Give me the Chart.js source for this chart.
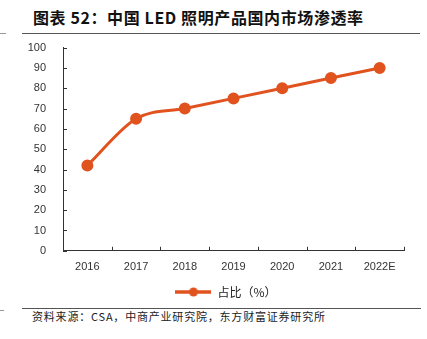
<!DOCTYPE html>
<html>
<head>
<meta charset="utf-8">
<script src="https://cdn.jsdelivr.net/npm/chart.js@4"></script>
<style>
  body { margin: 0; width: 427px; height: 339px; background: #fff; position: relative; overflow: hidden; font-family: "Noto Sans CJK SC", sans-serif; }
  .title { position: absolute; left: 33px; top: 5px; font-size: 16px; font-weight: bold; color: #111; letter-spacing: 0.6px; white-space: nowrap; }
  .rule { position: absolute; height: 1px; background: #555; }
  .source { position: absolute; left: 32px; top: 308px; font-size: 11px; color: #222; letter-spacing: 0.8px; white-space: nowrap; }
  #wrap { position: absolute; left: 0; top: 32px; width: 427px; height: 274px; }
</style>
</head>
<body>
<div class="title">图表 52：中国 LED 照明产品国内市场渗透率</div>
<div class="rule" style="left:22px; top:33px; width:398px;"></div>
<div class="rule" style="left:0; top:33px; width:6px; background:#999;"></div>
<div class="rule" style="left:22px; top:308px; width:399px;"></div>
<div class="rule" style="left:0; top:310px; width:4px; background:#999;"></div>
<div class="source">资料来源：CSA，中商产业研究院，东方财富证券研究所</div>
<div id="wrap"><canvas id="chart"></canvas></div>
<script>
const years = ['2016', '2017', '2018', '2019', '2020', '2021', '2022E'];
const share = [42, 65, 70, 75, 80, 85, 90];
const seriesName = '占比（%）';
const lineColor = '#E0531F';

// legend marker: line with a dot in the middle
const marker = document.createElement('canvas');
marker.width = 36;
marker.height = 10;
const m = marker.getContext('2d');
m.strokeStyle = lineColor;
m.lineWidth = 3.5;
m.beginPath();
m.moveTo(0, 5);
m.lineTo(36, 5);
m.stroke();
m.fillStyle = lineColor;
m.beginPath();
m.arc(18, 5, 4.5, 0, Math.PI * 2);
m.fill();

// ticks drawn inward from the axes
const innerTicks = {
    id: 'innerTicks',
    afterLayout(c) {
        // legend sits a bit right of the chart centre
        c.legend.left += 24;
        c.legend.right += 24;
        c.legend.top += 2;
        c.legend.bottom += 2;
    },
    afterDatasetsDraw(c) {
        const ctx = c.ctx;
        const x = c.scales.x, y = c.scales.y;
        ctx.save();
        ctx.strokeStyle = '#333';
        ctx.lineWidth = 1;
        ctx.beginPath();
        y.ticks.forEach((t, i) => {
            const py = Math.round(y.getPixelForTick(i)) + 0.5;
            ctx.moveTo(x.left, py);
            ctx.lineTo(x.left + 4, py);
        });
        for (let i = 1; i <= years.length; i++) {
            const px = Math.round(x.left + (x.right - x.left) * i / years.length) + 0.5;
            ctx.moveTo(px, y.bottom);
            ctx.lineTo(px, y.bottom - 4);
        }
        ctx.stroke();
        ctx.restore();
    }
};

new Chart(document.querySelector('#chart'), {
    type: 'line',
    data: {
        labels: years,
        datasets: [{
            label: seriesName,
            data: share,
            borderColor: lineColor,
            backgroundColor: lineColor,
            borderWidth: 3,
            pointRadius: 4.5,
            pointStyle: 'circle',
            cubicInterpolationMode: 'monotone'
        }]
    },
    options: {
        responsive: true,
        maintainAspectRatio: false,
        animation: false,
        layout: { padding: { top: 0, right: 23, left: 0, bottom: 0 } },
        plugins: {
            tooltip: { enabled: false },
            legend: {
                position: 'bottom',
                labels: {
                    usePointStyle: true,
                    pointStyle: marker,
                    pointStyleWidth: 36,
                    color: '#222',
                    padding: 8,
                    font: { family: '"Noto Sans CJK SC", sans-serif', size: 12 }
                }
            }
        },
        scales: {
            x: {
                offset: true,
                border: { color: '#333', width: 1 },
                grid: { display: false },
                ticks: { color: '#333', padding: 2, font: { family: 'Arial, "Liberation Sans", sans-serif', size: 11 } }
            },
            y: {
                min: 0,
                max: 100,
                afterFit: s => { s.width = 63; },
                border: { color: '#333', width: 1 },
                grid: { display: false },
                ticks: { stepSize: 10, color: '#333', padding: 9, font: { family: 'Arial, "Liberation Sans", sans-serif', size: 11 } }
            }
        }
    },
    plugins: [innerTicks]
});
</script>
</body>
</html>
